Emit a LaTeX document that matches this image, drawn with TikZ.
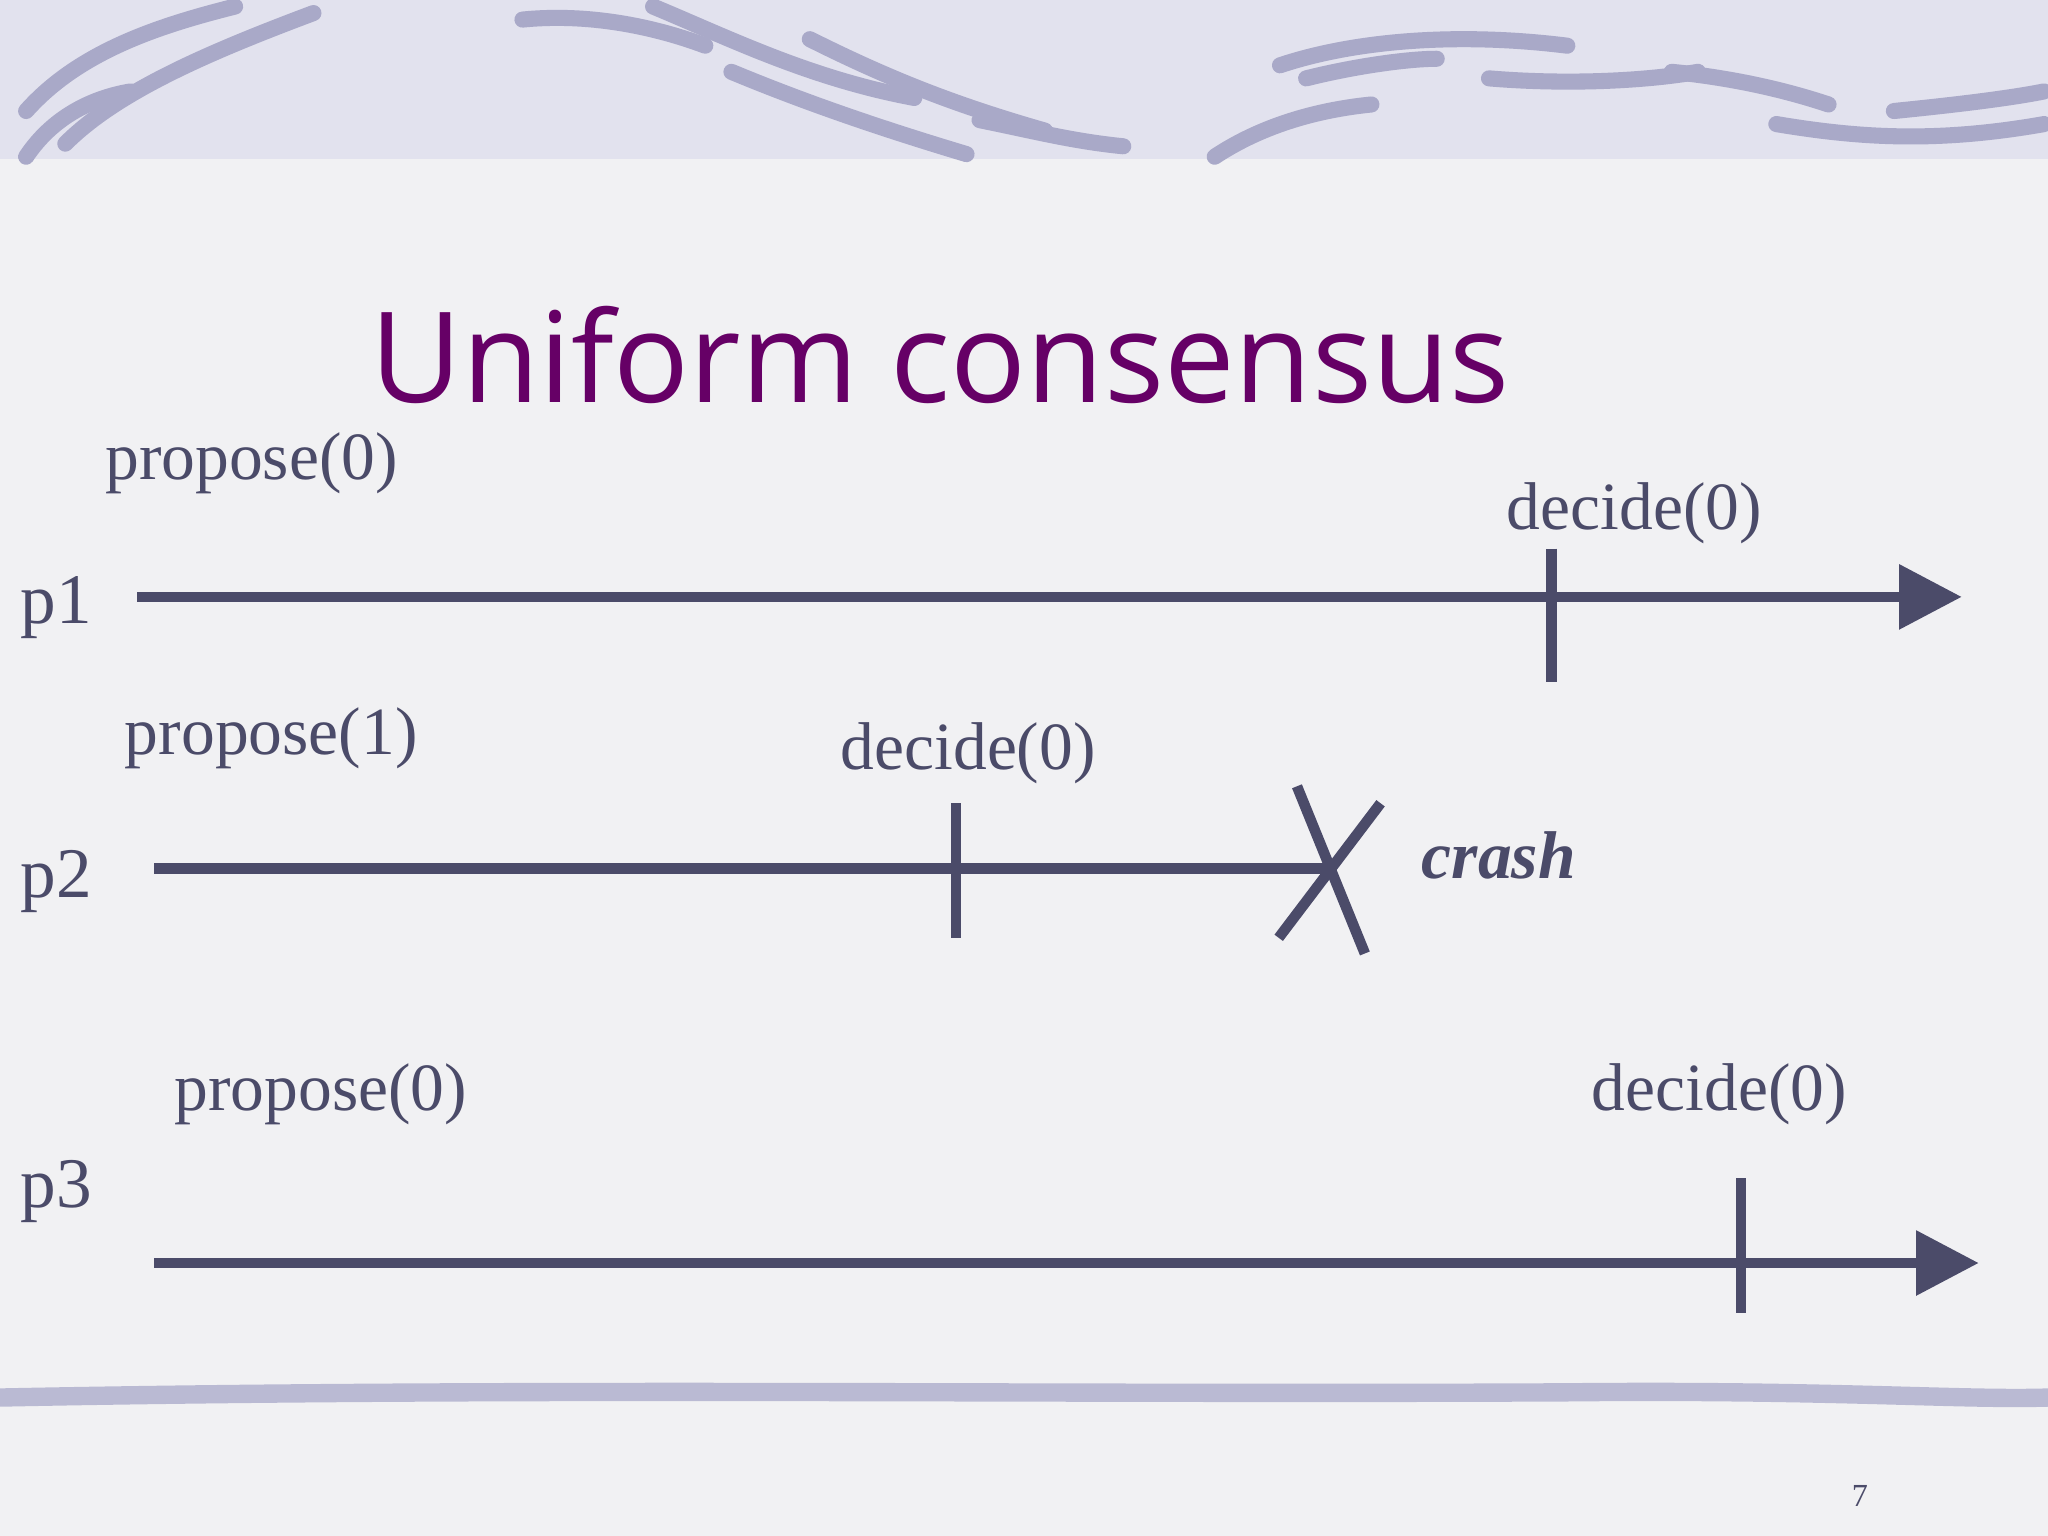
\documentclass[tikz,border=0pt]{standalone}
\usepackage{fontspec}
\setmainfont{Liberation Serif}
\newfontfamily\titlefont{Open Sans}
\usetikzlibrary{arrows.meta}
\definecolor{ink}{HTML}{4B4B69}
\definecolor{ttl}{HTML}{660066}
\definecolor{bg}{HTML}{F1F1F3}
\definecolor{band}{HTML}{E2E2EE}
\definecolor{swirl}{HTML}{A9A9C8}
\tikzset{
  lbl/.style={text=ink,font=\fontsize{14.7}{17}\selectfont,inner sep=0pt},
  plbl/.style={text=ink,font=\fontsize{15.5}{18}\selectfont,inner sep=0pt},
  tl/.style={draw=ink,line width=2.3pt},
  timeline/.style={tl,-{Triangle[length=0.48cm,width=0.48cm]}},
  sw/.style={draw=swirl,line width=3.5pt,line cap=round}
}
\begin{document}
\begin{tikzpicture}[x=0.01cm,y=-0.01cm]
\useasboundingbox (0,0) rectangle (1568,1176);
\fill[bg] (0,0) rectangle (1568,1176);
\fill[band] (0,0) rectangle (1568,122);
% decorative strokes
\draw[sw] (20,85) .. controls (60,40) and (120,20) .. (180,5);
\draw[sw] (50,110) .. controls (90,70) and (160,40) .. (240,10);
\draw[sw] (20,120) .. controls (40,90) and (70,75) .. (100,70);
\draw[sw] (400,15) .. controls (450,10) and (500,20) .. (540,35);
\draw[sw] (500,5) .. controls (560,30) and (620,60) .. (700,75);
\draw[sw] (560,55) .. controls (620,80) and (680,100) .. (740,118);
\draw[sw] (620,30) .. controls (680,60) and (730,80) .. (800,100);
\draw[sw] (750,92) .. controls (790,100) and (820,108) .. (860,112);
\draw[sw] (930,120) .. controls (960,100) and (1000,85) .. (1050,80);
\draw[sw] (980,50) .. controls (1040,30) and (1120,25) .. (1200,35);
\draw[sw] (1000,60) .. controls (1040,50) and (1080,45) .. (1100,45);
\draw[sw] (1140,60) .. controls (1200,65) and (1260,62) .. (1300,55);
\draw[sw] (1280,55) .. controls (1330,60) and (1370,70) .. (1400,80);
\draw[sw] (1360,95) .. controls (1420,105) and (1480,110) .. (1565,95);
\draw[sw] (1450,85) .. controls (1500,80) and (1540,75) .. (1565,70);
\draw[draw=swirl!80,line width=4pt] (0,1070) .. controls (400,1062) and (800,1068) .. (1200,1066) .. controls (1400,1064) and (1500,1072) .. (1568,1070);
% title
\node[text=ttl,font=\titlefont\fontsize{27.4}{30}\selectfont,anchor=base west,inner sep=0pt] (title) at (283,308) {Uniform consensus};
% p1
\node[plbl,anchor=west] (p1) at (15,465) {p1};
\coordinate (a1) at (105,457); \coordinate (b1) at (1502,457);
\draw[timeline] (a1) -- (b1);
\coordinate (t1a) at (1188,420); \coordinate (t1b) at (1188,522);
\draw[tl] (t1a) -- (t1b);
\node[lbl,anchor=west] (pr1) at (80,355) {propose(0)};
\node[lbl,anchor=west] (d1) at (1153,393) {decide(0)};
% p2
\node[plbl,anchor=west] (p2) at (15,675) {p2};
\coordinate (a2) at (118,665); \coordinate (b2) at (1018,665);
\draw[tl] (a2) -- (b2);
\coordinate (t2a) at (732,615); \coordinate (t2b) at (732,718);
\draw[tl] (t2a) -- (t2b);
\coordinate (x1) at (993,602); \coordinate (x2) at (1045,730);
\coordinate (x3) at (1057,615); \coordinate (x4) at (979,718);
\draw[tl] (x1) -- (x2); \draw[tl] (x3) -- (x4);
\node[lbl,anchor=west] (pr2) at (95,565) {propose(1)};
\node[lbl,anchor=west] (d2) at (643,577) {decide(0)};
\node[lbl,anchor=west,font=\fontsize{14.7}{17}\selectfont\bfseries\itshape] (cr) at (1088,655) {crash};
% p3
\node[plbl,anchor=west] (p3) at (15,912) {p3};
\coordinate (a3) at (118,967); \coordinate (b3) at (1515,967);
\draw[timeline] (a3) -- (b3);
\coordinate (t3a) at (1333,902); \coordinate (t3b) at (1333,1005);
\draw[tl] (t3a) -- (t3b);
\node[lbl,anchor=west] (pr3) at (133,838) {propose(0)};
\node[lbl,anchor=west] (d3) at (1218,838) {decide(0)};
\node[text=ink,font=\fontsize{7}{8}\selectfont,inner sep=0pt] (pg) at (1424,1145) {7};
\end{tikzpicture}
\end{document}
